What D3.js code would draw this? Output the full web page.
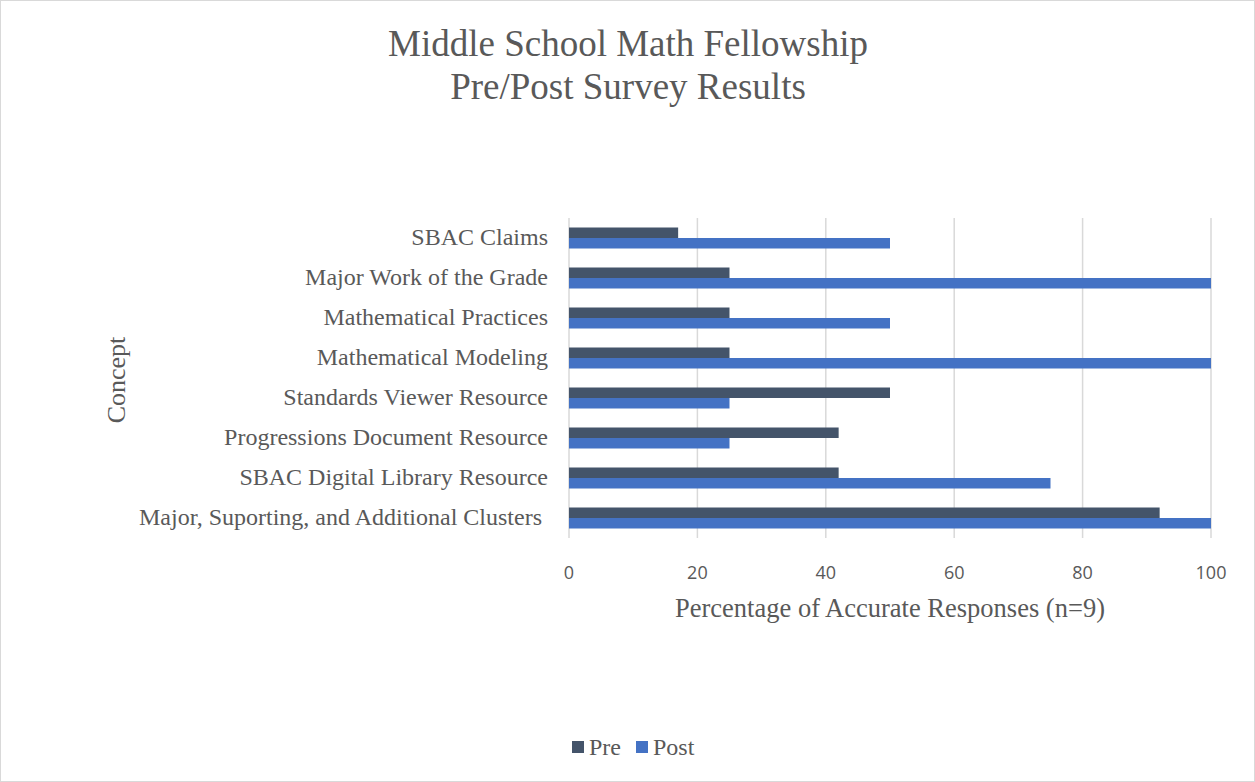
<!DOCTYPE html>
<html>
<head>
<meta charset="utf-8">
<script src="https://cdn.jsdelivr.net/npm/d3@7"></script>
<style>
  body { margin: 0; background: #fff; }
  svg { display: block; }
</style>
</head>
<body>
<div id="chart"></div>
<script>
const concepts = [
  "SBAC Claims",
  "Major Work of the Grade",
  "Mathematical Practices",
  "Mathematical Modeling",
  "Standards Viewer Resource",
  "Progressions Document Resource",
  "SBAC Digital Library Resource",
  "Major, Suporting, and Additional Clusters "
];
const preValues = [17, 25, 25, 25, 50, 42, 42, 92];
const postValues = [50, 100, 50, 100, 25, 25, 75, 100];
const seriesNames = ["Pre", "Post"];
const xTicks = [0, 20, 40, 60, 80, 100];

const width = 1255, height = 782;
const colors = { Pre: "#44546a", Post: "#4472c4" };
const serif = "'Liberation Serif', 'Times New Roman', serif";
const sans = "'Open Sans', 'Liberation Sans', sans-serif";

const svg = d3.select("#chart")
  .append("svg")
  .attr("width", width)
  .attr("height", height);

svg.append("rect")
  .attr("x", 0.5).attr("y", 0.5)
  .attr("width", width - 1).attr("height", height - 1)
  .attr("fill", "#fff")
  .attr("stroke", "#d9d9d9");

const plot = { left: 569, right: 1211, top: 218, bottom: 538 };

const x = d3.scaleLinear().domain([0, 100]).range([plot.left, plot.right]);
const y = d3.scaleBand().domain(concepts).range([plot.top, plot.bottom]).paddingInner(0.475).paddingOuter(0.2375);
const ySub = d3.scaleBand().domain(seriesNames).range([0, y.bandwidth()]);

// title
const title = svg.append("text")
  .attr("text-anchor", "middle")
  .attr("fill", "#595959")
  .style("font-family", serif)
  .style("font-size", "37px");
title.append("tspan").attr("x", 628).attr("y", 56).text("Middle School Math Fellowship");
title.append("tspan").attr("x", 628).attr("y", 99).text("Pre/Post Survey Results");

// gridlines
svg.append("g")
  .selectAll("line")
  .data(xTicks)
  .join("line")
  .attr("x1", d => x(d)).attr("x2", d => x(d))
  .attr("y1", plot.top).attr("y2", plot.bottom)
  .attr("stroke", "#d9d9d9")
  .attr("stroke-width", 1.5);

// bars
const rows = concepts.map((c, i) => ({ concept: c, Pre: preValues[i], Post: postValues[i] }));

svg.append("g")
  .selectAll("g")
  .data(rows)
  .join("g")
  .attr("transform", d => `translate(0,${y(d.concept)})`)
  .selectAll("rect")
  .data(d => seriesNames.map(s => ({ key: s, value: d[s] })))
  .join("rect")
  .attr("x", x(0))
  .attr("y", d => ySub(d.key))
  .attr("width", d => x(d.value) - x(0))
  .attr("height", ySub.bandwidth())
  .attr("fill", d => colors[d.key]);

// category labels (trailing space kept as in the original)
svg.append("g")
  .selectAll("text")
  .data(concepts)
  .join("text")
  .attr("x", 548)
  .attr("y", d => y(d) + y.bandwidth() / 2)
  .attr("dy", "0.3em")
  .attr("text-anchor", "end")
  .attr("fill", "#595959")
  .style("font-family", serif)
  .style("font-size", "24px")
  .style("white-space", "pre")
  .text(d => d);

// x tick labels
svg.append("g")
  .selectAll("text")
  .data(xTicks)
  .join("text")
  .attr("x", d => x(d))
  .attr("y", 579)
  .attr("text-anchor", "middle")
  .attr("fill", "#595959")
  .style("font-family", sans)
  .style("font-size", "18px")
  .text(d => d);

// axis titles
svg.append("text")
  .attr("x", 890)
  .attr("y", 617)
  .attr("text-anchor", "middle")
  .attr("fill", "#595959")
  .style("font-family", serif)
  .style("font-size", "26.5px")
  .text("Percentage of Accurate Responses (n=9)");

svg.append("text")
  .attr("transform", "translate(125,380) rotate(-90)")
  .attr("text-anchor", "middle")
  .attr("fill", "#595959")
  .style("font-family", serif)
  .style("font-size", "26px")
  .text("Concept");

// legend
const legend = svg.append("g")
  .selectAll("g")
  .data(seriesNames)
  .join("g")
  .attr("transform", (d, i) => `translate(${i === 0 ? 572 : 636},741)`);

legend.append("rect")
  .attr("width", 12).attr("height", 12)
  .attr("fill", d => colors[d]);

legend.append("text")
  .attr("x", 17)
  .attr("y", 14)
  .attr("fill", "#595959")
  .style("font-family", serif)
  .style("font-size", "24px")
  .text(d => d);
</script>
</body>
</html>
